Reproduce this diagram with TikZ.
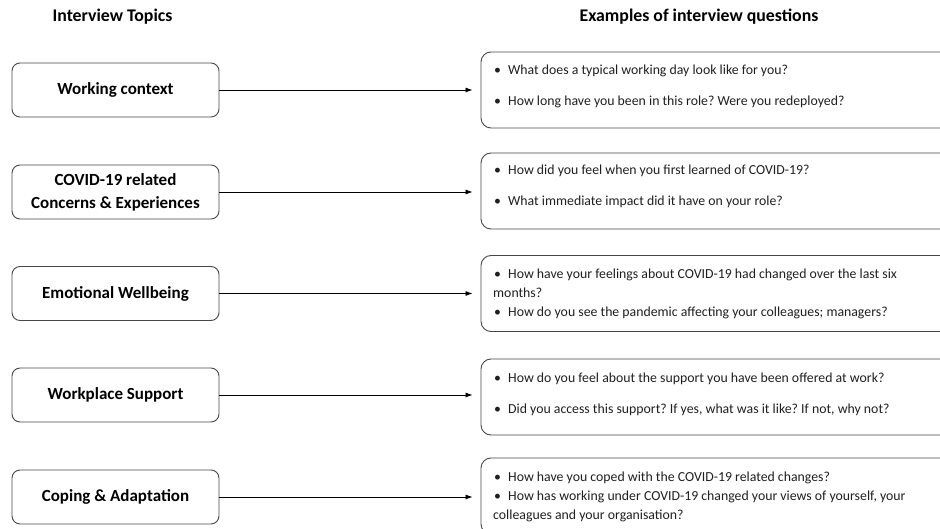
\documentclass[tikz,border=0pt]{standalone}
\usepackage{fontspec}
\setmainfont{Carlito}
\usetikzlibrary{arrows.meta}
\frenchspacing
\newcommand{\qb}{\makebox[15pt][l]{\hspace{1pt}\textbullet}}
\begin{document}
\begin{tikzpicture}[x=1pt,y=-1pt,
  topic/.style={draw=black!72, line width=0.9pt, rounded corners=8pt, minimum width=207pt, minimum height=54pt, inner sep=0pt, align=center, font=\fontsize{17}{23}\selectfont\bfseries},
  qbox/.style={draw=black!72, line width=0.9pt, rounded corners=10pt, minimum width=480pt, minimum height=76pt, inner sep=0pt},
  q/.style={anchor=base west, inner sep=0pt, font=\fontsize{13.8}{15}\selectfont, text=black!88},
  head/.style={inner sep=0pt, font=\fontsize{17.8}{20}\selectfont\bfseries},
  conn/.style={-{Latex[length=7pt,width=5pt]}, line width=0.8pt, shorten >=8pt}]
\useasboundingbox (0,0) rectangle (940,529);
\clip (0,0) rectangle (940,529);

% headers
\node[head] (h1) at (112.5,17) {Interview Topics};
\node[head] (h2) at (699,17) {Examples of interview questions};

% topic boxes
\node[topic] (t1) at (115.5,90) {Working context};
\node[topic] (t2) at (115.5,192) {COVID-19 related\\Concerns \& Experiences};
\node[topic] (t3) at (115.5,293.5) {Emotional Wellbeing};
\node[topic] (t4) at (115.5,395) {Workplace Support};
\node[topic] (t5) at (115.5,497) {Coping \& Adaptation};

% question boxes
\node[qbox] (e1) at (721,90) {};
\node[qbox] (e2) at (721,191) {};
\node[qbox] (e3) at (721,293.5) {};
\node[qbox] (e4) at (721,397) {};
\node[qbox] (e5) at (721,496) {};

% connectors
\draw[conn] (t1.east) -- (t1.east -| e1.west);
\draw[conn] (t2.east) -- (t2.east -| e2.west);
\draw[conn] (t3.east) -- (t3.east -| e3.west);
\draw[conn] (t4.east) -- (t4.east -| e4.west);
\draw[conn] (t5.east) -- (t5.east -| e5.west);

% questions
\node[q] (q1a) at (493,75) {\qb What does a typical working day look like for you?};
\node[q] (q1b) at (493,106) {\qb How long have you been in this role? Were you redeployed?};

\node[q] (q2a) at (493,174.5) {\qb How did you feel when you first learned of COVID-19?};
\node[q] (q2b) at (493,205.5) {\qb What immediate impact did it have on your role?};

\node[q] (q3a) at (493,278.5) {\qb How have your feelings about COVID-19 had changed over the last six};
\node[q] (q3b) at (493,297.5) {months?};
\node[q] (q3c) at (493,316.5) {\qb How do you see the pandemic affecting your colleagues; managers?};

\node[q] (q4a) at (493,382.5) {\qb How do you feel about the support you have been offered at work?};
\node[q] (q4b) at (493,413.5) {\qb Did you access this support? If yes, what was it like? If not, why not?};

\node[q] (q5a) at (493,481) {\qb How have you coped with the COVID-19 related changes?};
\node[q] (q5b) at (493,500) {\qb How has working under COVID-19 changed your views of yourself, your};
\node[q] (q5c) at (493,519) {colleagues and your organisation?};
\end{tikzpicture}
\end{document}
